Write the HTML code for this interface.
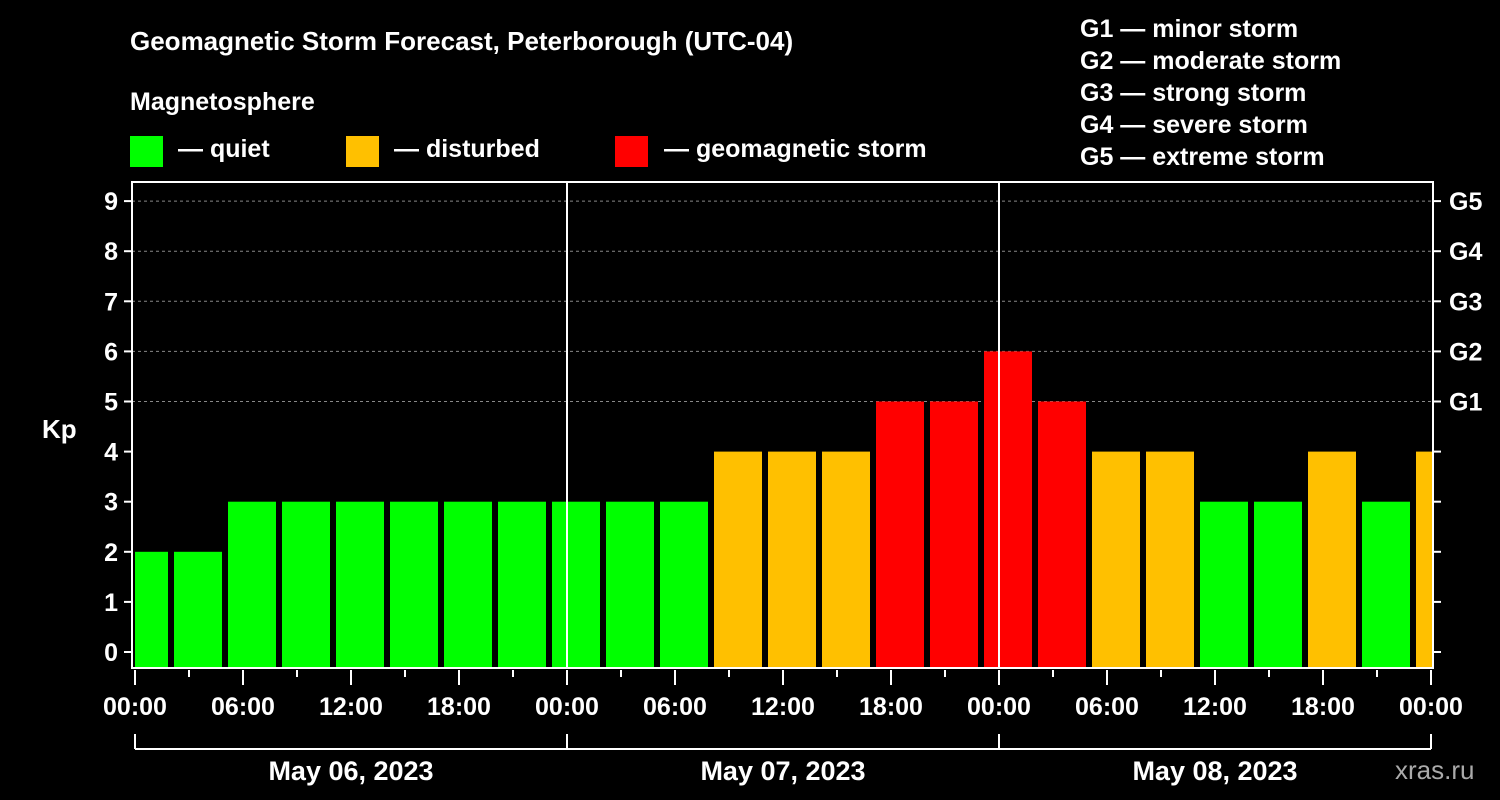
<!DOCTYPE html>
<html><head><meta charset="utf-8"><style>
body{margin:0;background:#000;}
svg{display:block;font-family:"Liberation Sans",sans-serif;font-weight:bold;}
</style></head><body>
<svg id="c" width="1500" height="800">
<g fill="#fff" font-size="26">
<text x="130" y="50">Geomagnetic Storm Forecast, Peterborough (UTC-04)</text>
<text x="130" y="110" font-size="25">Magnetosphere</text>
<rect x="130" y="136" width="33" height="31" fill="#00ff00"/>
<text x="178" y="157" font-size="25">— quiet</text>
<rect x="346" y="136" width="33" height="31" fill="#ffc000"/>
<text x="394" y="157" font-size="25">— disturbed</text>
<rect x="615" y="136" width="33" height="31" fill="#ff0000"/>
<text x="664" y="157" font-size="25">— geomagnetic storm</text>
<g font-size="25">
<text x="1080" y="37">G1 — minor storm</text>
<text x="1080" y="69">G2 — moderate storm</text>
<text x="1080" y="101">G3 — strong storm</text>
<text x="1080" y="133">G4 — severe storm</text>
<text x="1080" y="165">G5 — extreme storm</text>
</g>
<text x="42" y="438">Kp</text>
<text x="1395" y="779" fill="#aaa" font-weight="normal" font-size="26">xras.ru</text>
</g>
<g id="plot"></g>
</svg>
<script>
const kpValues=[2,2,3,3,3,3,3,3,3,3,3,4,4,4,5,5,6,5,4,4,3,3,4,3,4];
const startHourOffset=-1; // first interval starts at 23:00 of previous day (local)
const dayLabels=["May 06, 2023","May 07, 2023","May 08, 2023"];
const timeLabels=["00:00","06:00","12:00","18:00"];
const gLabels=["G1","G2","G3","G4","G5"];
const NS="http://www.w3.org/2000/svg";
const L=132,R=1433,T=182,B=668,X0=135,PXH=18;
const x=h=>X0+h*PXH, y=v=>652-v*50.1;
const g=document.getElementById('plot');
function mk(t,a){const e=document.createElementNS(NS,t);for(const k in a)e.setAttribute(k,a[k]);g.appendChild(e);return e;}
// grid
for(let v=5;v<=9;v++){const e=mk('line',{x1:L,x2:R,y1:y(v),y2:y(v),stroke:'#888','stroke-dasharray':'3,3','stroke-width':1});

}
// bars
const cp=mk('clipPath',{id:'cl'});const cr=document.createElementNS(NS,'rect');cr.setAttribute('x',L+3);cr.setAttribute('y',T);cr.setAttribute('width',R-L-4);cr.setAttribute('height',B-T);cp.appendChild(cr);
kpValues.forEach((v,i)=>{const h=startHourOffset+i*3;const col=v>=5?'#ff0000':v==4?'#ffc000':'#00ff00';
const e=mk('rect',{x:x(h)+3,y:y(v),width:3*PXH-6,height:B-y(v),fill:col,'clip-path':'url(#cl)'});

});
// day separators
[1,2].forEach(d=>{const e=mk('line',{x1:x(d*24),x2:x(d*24),y1:T,y2:B,stroke:'#fff','stroke-width':2});

});
// frame
const f=mk('rect',{x:L,y:T,width:R-L,height:B-T,fill:'none',stroke:'#fff','stroke-width':2});


// y ticks + labels
for(let v=0;v<=9;v++){mk('line',{x1:L-8,x2:L,y1:y(v),y2:y(v),stroke:'#fff','stroke-width':2});
mk('line',{x1:R,x2:R+8,y1:y(v),y2:y(v),stroke:'#fff','stroke-width':2});
const t=mk('text',{x:L-14,y:y(v)+9,fill:'#fff','font-size':25,'text-anchor':'end'});t.textContent=v;

}
gLabels.forEach((s,i)=>{const t=mk('text',{x:R+16,y:y(5+i)+9,fill:'#fff','font-size':25});t.textContent=s;

});
// x ticks + labels
for(let h=0;h<=72;h+=3){const maj=h%6==0;mk('line',{x1:x(h),x2:x(h),y1:B+2,y2:B+(maj?17:9),stroke:'#fff','stroke-width':2});
if(maj){const t=mk('text',{x:x(h),y:715,fill:'#fff','font-size':25,'text-anchor':'middle'});t.textContent=timeLabels[(h/6)%4];

}}
// day bracket
mk('line',{x1:x(0),x2:x(72),y1:749,y2:749,stroke:'#fff','stroke-width':2});
for(let d=0;d<=3;d++)mk('line',{x1:x(d*24),x2:x(d*24),y1:734,y2:749,stroke:'#fff','stroke-width':2});
dayLabels.forEach((s,d)=>{const t=mk('text',{x:x(d*24+12),y:780,fill:'#fff','font-size':27,'text-anchor':'middle'});t.textContent=s;

});
</script>
</body></html>
